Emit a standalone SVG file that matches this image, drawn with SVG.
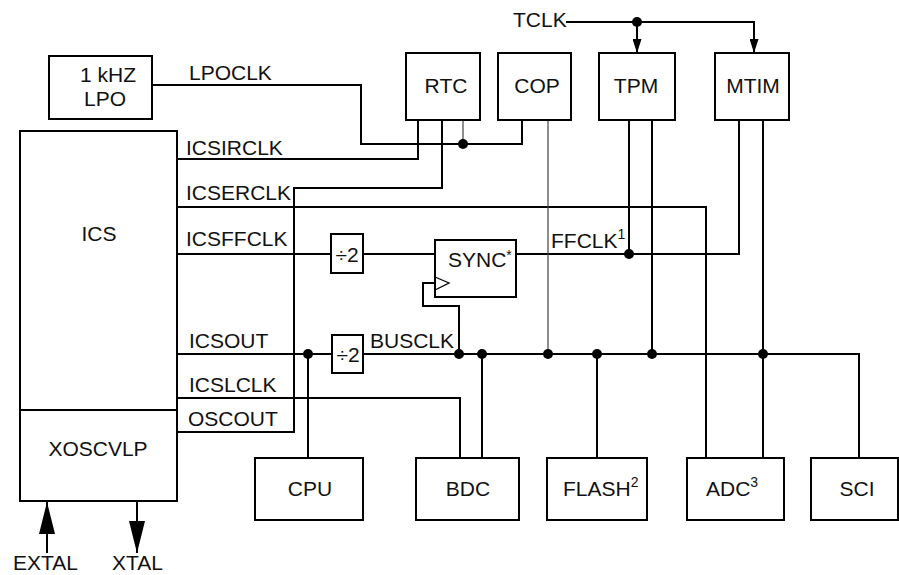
<svg xmlns="http://www.w3.org/2000/svg" width="899" height="575" viewBox="0 0 899 575">
<style>
.box{fill:#fff;stroke:#000;stroke-width:2}
.w{fill:none;stroke:#000;stroke-width:2}
.thin{fill:none;stroke:#444;stroke-width:1.2}
.dot{fill:#000}
text{font-family:"Liberation Sans",Arial,sans-serif;font-size:21px;fill:#111}
.c{text-anchor:middle}
.sup{font-size:14px}
</style>
<defs>
<marker id="arr" viewBox="0 0 14 9" refX="14" refY="4.5" markerWidth="14" markerHeight="9" markerUnits="userSpaceOnUse" orient="auto"><path d="M0,0 L14,4.5 L0,9 z" fill="#000"/></marker>
<marker id="big" viewBox="0 0 32 16" refX="32" refY="8" markerWidth="32" markerHeight="16" markerUnits="userSpaceOnUse" orient="auto"><path d="M0,0 L32,8 L0,16 z" fill="#000"/></marker>
</defs>
<g id="connectors">
<polyline class="w" points="152,85 361,85 361,144 522,144 522,120"/>
<polyline class="w" points="177,159 418,159 418,120"/>
<polyline class="w" points="177,432 294,432 294,188 442,188 442,120"/>
<polyline class="thin" points="463,120 463,144"/>
<polyline class="w" points="177,207 706,207 706,458"/>
<polyline class="w" points="177,254 331,254"/>
<polyline class="w" points="363,254 435,254"/>
<polyline class="w" points="516,254 739,254 739,120"/>
<polyline class="w" points="629,120 629,254"/>
<polyline class="w" points="652,120 652,354"/>
<polyline class="w" points="763,120 763,458"/>
<polyline class="thin" points="548,120 548,354"/>
<polyline class="w" points="177,354 332,354"/>
<polyline class="w" points="308,354 308,458"/>
<polyline class="w" points="363,354 859,354 859,458"/>
<polyline class="w" points="459,354 459,306 423,306 423,283 435,283"/>
<polyline class="w" points="482,354 482,458"/>
<polyline class="w" points="597,354 597,458"/>
<polyline class="w" points="177,398 460,398 460,458"/>
<polyline class="w" points="566,22 754,22 754,53" marker-end="url(#arr)"/>
<polyline class="w" points="637,22 637,53" marker-end="url(#arr)"/>
<line class="w" x1="47" y1="553" x2="47" y2="502" marker-end="url(#big)"/>
<line class="w" x1="137" y1="501" x2="137" y2="553" marker-end="url(#big)"/>
<circle class="dot" cx="463" cy="144" r="5"/>
<circle class="dot" cx="629" cy="254" r="5"/>
<circle class="dot" cx="637" cy="22" r="5"/>
<circle class="dot" cx="308" cy="354" r="5"/>
<circle class="dot" cx="459" cy="354" r="5"/>
<circle class="dot" cx="482" cy="354" r="5"/>
<circle class="dot" cx="548" cy="354" r="5"/>
<circle class="dot" cx="597" cy="354" r="5"/>
<circle class="dot" cx="652" cy="354" r="5"/>
<circle class="dot" cx="763" cy="354" r="5"/>
<text x="189" y="80">LPOCLK</text>
<text x="186" y="155">ICSIRCLK</text>
<text x="186" y="200">ICSERCLK</text>
<text x="186" y="246">ICSFFCLK</text>
<text x="189" y="348">ICSOUT</text>
<text x="189" y="392">ICSLCLK</text>
<text x="188" y="426">OSCOUT</text>
<text x="370" y="348">BUSCLK</text>
<text x="551" y="248">FFCLK<tspan class="sup" dy="-9">1</tspan></text>
<text x="513" y="27">TCLK</text>
<text x="13" y="570">EXTAL</text>
<text x="112" y="570">XTAL</text>
</g>
<g id="lpo"><rect class="box" x="49" y="56" width="103" height="63"/><text class="c" x="108" y="82">1 kHZ</text><text class="c" x="105" y="106">LPO</text></g>
<g id="ics"><rect class="box" x="20" y="131" width="157" height="279"/><text class="c" x="99" y="241">ICS</text></g>
<g id="xoscvlp"><rect class="box" x="20" y="410" width="157" height="91"/><text class="c" x="98" y="456">XOSCVLP</text></g>
<g id="rtc"><rect class="box" x="406" y="53" width="74" height="67"/><text class="c" x="446" y="93">RTC</text></g>
<g id="cop"><rect class="box" x="498" y="53" width="73" height="67"/><text class="c" x="537" y="93">COP</text></g>
<g id="tpm"><rect class="box" x="599" y="53" width="76" height="67"/><text class="c" x="636" y="93">TPM</text></g>
<g id="mtim"><rect class="box" x="715" y="53" width="74" height="67"/><text class="c" x="753" y="93">MTIM</text></g>
<g id="div1"><rect class="box" x="331" y="234" width="32" height="39"/><text class="c" x="347" y="262">÷2</text></g>
<g id="div2"><rect class="box" x="332" y="335" width="31" height="38"/><text class="c" x="348" y="362">÷2</text></g>
<g id="sync"><rect class="box" x="435" y="240" width="81" height="57"/><polyline class="w" style="stroke-width:1.3" points="435,277 449,283 435,290"/><text x="448" y="267">SYNC<tspan class="sup" dy="-7">*</tspan></text></g>
<g id="cpu"><rect class="box" x="255" y="458" width="108" height="62"/><text class="c" x="310" y="496">CPU</text></g>
<g id="bdc"><rect class="box" x="416" y="458" width="103" height="62"/><text class="c" x="468" y="496">BDC</text></g>
<g id="flash"><rect class="box" x="547" y="458" width="100" height="62"/><text x="563" y="496">FLASH<tspan class="sup" dy="-9">2</tspan></text></g>
<g id="adc"><rect class="box" x="687" y="458" width="97" height="62"/><text x="706" y="496">ADC<tspan class="sup" dy="-9">3</tspan></text></g>
<g id="sci"><rect class="box" x="811" y="458" width="87" height="62"/><text class="c" x="857" y="496">SCI</text></g>
</svg>
